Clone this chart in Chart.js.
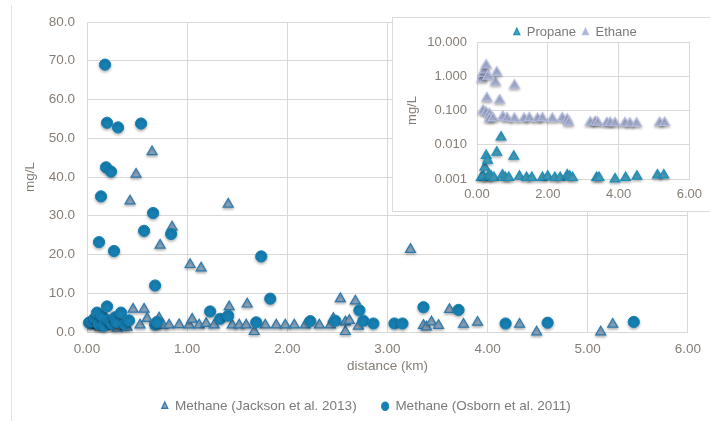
<!DOCTYPE html>
<html>
<head>
<meta charset="utf-8">
<script src="https://cdn.jsdelivr.net/npm/chart.js@4.4.1/dist/chart.umd.min.js"></script>
<style>
body { margin: 0; background: #fff; }
#wrap { position: relative; width: 710px; height: 421px; overflow: hidden; }
#frame { position: absolute; left: 11px; top: 5px; height: 416px; border-left: 1px solid #e2e2e2; }
#main { position: absolute; left: 0; top: 0; }
#insetBox { position: absolute; left: 392px; top: 17px; width: 317px; height: 193px; border: 1px solid #dcdcdc; background: #fff; }
</style>
</head>
<body>
<div id="wrap">
  <div id="frame"></div>
  <canvas id="main" width="710" height="421"></canvas>
  <div id="insetBox"><canvas id="inset" width="317" height="193"></canvas></div>
</div>
<script>
// main chart: methane vs distance
const jacksonKm = [0.06,0.10,0.13,0.15,0.18,0.22,0.26,0.30,0.33,0.35,0.37,0.40,0.43,0.46,0.49,0.53,0.57,0.60,0.65,0.69,0.72,0.73,0.76,0.82,0.85,0.92,1.02,1.03,1.05,1.12,1.14,1.19,1.27,1.41,1.42,1.45,1.52,1.59,1.60,1.67,1.78,1.89,1.98,2.07,2.18,2.32,2.43,2.46,2.53,2.58,2.58,2.62,2.68,2.71,3.23,3.36,3.39,3.44,3.51,3.62,3.76,3.90,4.32,4.49,5.13,5.25];
const jacksonMethane = [1.6,2.0,1.2,3.2,1.4,2.6,1.5,1.0,2.0,3.6,1.7,1.2,33.8,5.9,40.7,1.8,5.9,3.5,46.5,1.8,3.6,22.4,1.7,1.8,27.1,1.9,1.8,17.4,3.3,1.8,16.5,2.2,1.8,33.0,6.5,1.8,1.8,1.8,7.2,0.1,1.8,1.8,1.8,1.8,1.8,1.8,1.8,3.5,8.6,0.1,2.6,3.0,8.0,1.5,21.3,1.7,1.3,2.6,1.7,5.8,2.0,2.5,2.0,0.0,0.0,2.0];

const osbornKm = [0.02,0.05,0.08,0.10,0.12,0.12,0.14,0.15,0.17,0.18,0.19,0.20,0.20,0.22,0.24,0.25,0.27,0.28,0.30,0.31,0.34,0.38,0.42,0.54,0.57,0.66,0.68,0.68,0.70,0.84,1.23,1.33,1.41,1.69,1.74,1.83,2.23,2.48,2.72,2.76,2.86,3.07,3.15,3.36,3.71,4.18,4.60,5.46];
const osbornMethane = [2.4,2.8,3.6,5.0,23.2,2.0,35.0,4.2,1.6,69.0,42.5,54.0,6.6,3.0,41.4,2.2,20.9,3.8,2.6,52.8,5.0,2.0,3.0,53.8,26.1,30.7,12.0,1.9,2.6,25.3,5.3,3.4,4.2,2.5,19.5,8.6,2.8,2.9,5.6,2.9,2.2,2.2,2.2,6.4,5.7,2.2,2.4,2.6];

// inset chart: propane and ethane (log scale)
const propaneKm = [0.12,0.18,0.22,0.26,0.30,0.30,0.35,0.40,0.48,0.56,0.68,0.72,0.80,0.90,1.04,1.20,1.40,1.55,1.85,2.00,2.20,2.35,2.55,2.62,2.70,3.38,3.45,3.90,4.20,4.52,5.10,5.28];
const propaneMgL = [0.0011,0.0012,0.0022,0.0048,0.0035,0.0011,0.0013,0.0012,0.0011,0.006,0.0166,0.0013,0.0011,0.0011,0.0046,0.0012,0.0011,0.0011,0.0011,0.0012,0.0011,0.0011,0.0013,0.0012,0.0011,0.0011,0.0011,0.001,0.0011,0.0012,0.0013,0.0013];

const ethaneKm = [0.14,0.17,0.22,0.26,0.30,0.52,0.56,1.06,0.28,0.64,0.17,0.25,0.35,0.35,0.45,0.73,0.85,1.06,1.33,1.48,1.71,1.85,2.13,2.41,2.55,2.59,3.20,3.34,3.41,3.67,3.76,3.90,4.18,4.32,4.51,5.16,5.30];
const ethaneMgL = [0.85,1.19,1.5,2.1,1.0,0.67,1.3,0.54,0.23,0.2,0.10,0.09,0.08,0.057,0.06,0.066,0.06,0.058,0.058,0.06,0.058,0.06,0.058,0.06,0.055,0.045,0.045,0.047,0.045,0.043,0.044,0.043,0.043,0.042,0.042,0.044,0.044];

const insetTicks = [0.001, 0.01, 0.1, 1, 10];

function toPoints(xs, ys) {
    return xs.map((x, i) => ({ x: x, y: ys[i] }));
}

const tickColor = '#857d75';
const gridColor = '#d9d9d9';
const fontFamily = '"Liberation Sans", Arial, sans-serif';

// soft drop shadow under markers
const markerShadow = {
    id: 'markerShadow',
    beforeDatasetsDraw(chart) {
        const ctx = chart.ctx;
        ctx.save();
        ctx.shadowColor = 'rgba(0,0,0,0.3)';
        ctx.shadowBlur = 3;
        ctx.shadowOffsetY = 1.5;
    },
    afterDatasetsDraw(chart) {
        chart.ctx.restore();
    }
};

// fixed legend height and a small offset, to sit where the original legend sits
const legendNudge = {
    id: 'legendNudge',
    afterInit(chart, args, opts) {
        if (opts.height) {
            const fit = chart.legend.fit;
            chart.legend.fit = function () {
                fit.call(this);
                this.height = opts.height;
            };
        }
    },
    afterLayout(chart, args, opts) {
        const lg = chart.legend;
        lg.left += opts.dx || 0;
        lg.right += opts.dx || 0;
        lg.top += opts.dy || 0;
        lg.bottom += opts.dy || 0;
    }
};

new Chart(document.getElementById('main'), {
    type: 'scatter',
    data: {
        datasets: [{
            label: 'Methane (Jackson et al. 2013)',
            data: toPoints(jacksonKm, jacksonMethane),
            pointStyle: 'triangle',
            pointRadius: 5.8,
            backgroundColor: '#8ea6bd',
            borderColor: '#2e7aae',
            borderWidth: 1.2,
            clip: false,
            order: 1
        }, {
            label: 'Methane (Osborn et al. 2011)',
            data: toPoints(osbornKm, osbornMethane),
            pointStyle: 'circle',
            pointRadius: 5.6,
            backgroundColor: '#1680b3',
            borderColor: '#1680b3',
            borderWidth: 1,
            clip: false,
            order: 0
        }]
    },
    options: {
        responsive: false,
        animation: false,
        layout: { padding: { left: 18, right: 18, top: 22, bottom: 0 } },
        plugins: {
            legend: {
                position: 'bottom',
                labels: {
                    usePointStyle: true,
                    boxHeight: 6,
                    pointStyleWidth: 7,
                    padding: 25,
                    color: '#7a7a7a',
                    font: { family: fontFamily, size: 13.5 },
                    sort: (a, b) => a.datasetIndex - b.datasetIndex
                }
            },
            legendNudge: { dx: 11, dy: 2 },
            tooltip: { enabled: false }
        },
        scales: {
            x: {
                type: 'linear',
                min: 0,
                max: 6,
                afterFit: s => { s.height = 421 - 332 - s.chart.legend.height; },
                ticks: { stepSize: 1, padding: 9, color: tickColor, font: { family: fontFamily, size: 13.5 }, callback: v => Number(v).toFixed(2) },
                grid: { color: gridColor, drawTicks: false },
                border: { color: gridColor },
                title: { display: true, text: 'distance (km)', color: tickColor, font: { family: fontFamily, size: 13.5 }, padding: { top: 4, bottom: -2 } }
            },
            y: {
                min: 0,
                max: 80,
                afterFit: s => { s.width = 69; },
                ticks: { stepSize: 10, padding: 12, color: tickColor, font: { family: fontFamily, size: 13.5 }, callback: v => Number(v).toFixed(1) },
                grid: { color: gridColor, drawTicks: false },
                border: { color: gridColor },
                title: { display: true, text: 'mg/L', color: tickColor, font: { family: fontFamily, size: 13.5 } }
            }
        }
    },
    plugins: [markerShadow, legendNudge]
});

new Chart(document.getElementById('inset'), {
    type: 'scatter',
    data: {
        datasets: [{
            label: 'Propane',
            data: toPoints(propaneKm, propaneMgL),
            pointStyle: 'triangle',
            pointRadius: 5.6,
            backgroundColor: '#4aa2bf',
            borderColor: '#1c90bb',
            borderWidth: 1.2,
            clip: false
        }, {
            label: 'Ethane',
            data: toPoints(ethaneKm, ethaneMgL),
            pointStyle: 'triangle',
            pointRadius: 5.6,
            backgroundColor: '#aab4d5',
            borderColor: '#b5bee0',
            borderWidth: 1.2,
            clip: false
        }]
    },
    options: {
        responsive: false,
        animation: false,
        layout: { padding: { left: 8, right: 17, top: 2, bottom: 0 } },
        plugins: {
            legend: {
                position: 'top',
                labels: {
                    usePointStyle: true,
                    boxHeight: 6,
                    pointStyleWidth: 7,
                    padding: 6,
                    color: '#7a7a7a',
                    font: { family: fontFamily, size: 13 }
                }
            },
            legendNudge: { height: 22, dx: 28, dy: 0 },
            tooltip: { enabled: false }
        },
        scales: {
            x: {
                type: 'linear',
                min: 0,
                max: 6,
                afterFit: s => { s.height = 32; },
                ticks: { stepSize: 2, padding: 8, color: tickColor, font: { family: fontFamily, size: 13 }, callback: v => Number(v).toFixed(2) },
                grid: { color: gridColor, drawTicks: false },
                border: { color: gridColor }
            },
            y: {
                type: 'logarithmic',
                min: 0.001,
                max: 10,
                afterFit: s => { s.width = 76; },
                afterBuildTicks: s => { s.ticks = insetTicks.map(v => ({ value: v })); },
                ticks: { padding: 10, color: tickColor, font: { family: fontFamily, size: 13 }, callback: v => Number(v).toFixed(3) },
                grid: { color: gridColor, drawTicks: false },
                border: { color: gridColor },
                title: { display: true, text: 'mg/L', color: tickColor, font: { family: fontFamily, size: 13 } }
            }
        }
    },
    plugins: [markerShadow, legendNudge]
});
</script>
</body>
</html>
